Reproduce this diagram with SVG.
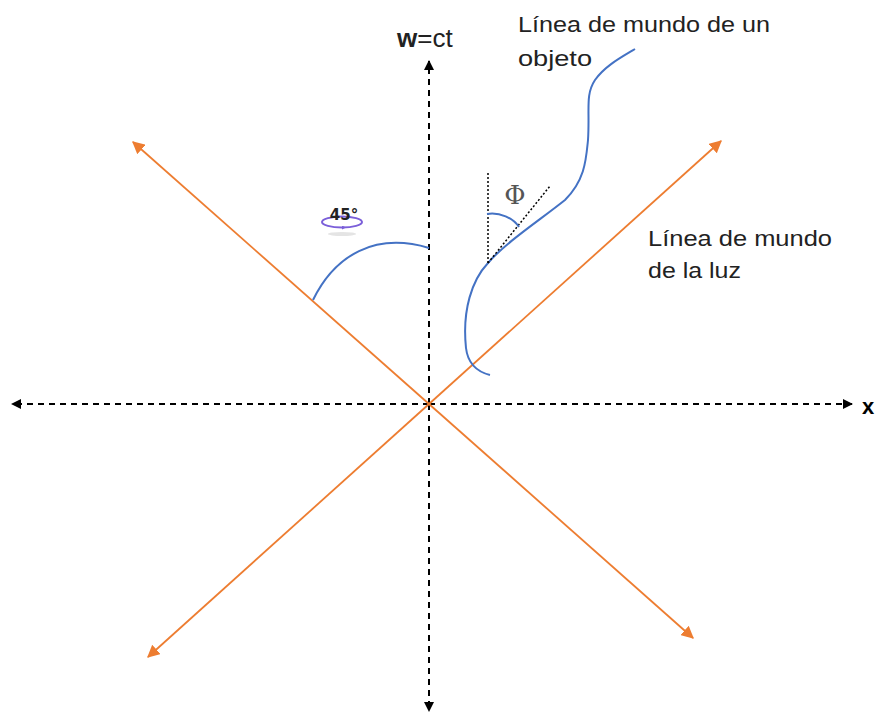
<svg xmlns="http://www.w3.org/2000/svg" width="883" height="713" viewBox="0 0 883 713">
<defs>
<marker id="ab" viewBox="0 0 10 10" refX="9" refY="5" markerWidth="5" markerHeight="5" orient="auto-start-reverse" markerUnits="strokeWidth">
<path d="M0,0 L10,5 L0,10 z" fill="#000"/>
</marker>
<marker id="ao" viewBox="0 0 10 10" refX="9" refY="5" markerWidth="7" markerHeight="7" orient="auto" markerUnits="strokeWidth">
<path d="M0,0 L10,5 L0,10 z" fill="#ED7D31"/>
</marker>
<marker id="ap" viewBox="0 0 10 10" refX="5" refY="5" markerWidth="4" markerHeight="4" orient="auto">
<path d="M0,0 L10,5 L0,10 z" fill="#7B5FD9"/>
</marker>
</defs>
<style>
.axis{stroke:#000;stroke-width:2;stroke-dasharray:6 5;fill:none}
.light{stroke:#ED7D31;stroke-width:1.8;fill:none}
.blue{stroke:#4472C4;stroke-width:2;fill:none}
.lbl{font-family:"Liberation Sans",Arial,sans-serif;font-size:22px;fill:#222}
.dot{stroke:#000;stroke-width:1.5;stroke-dasharray:2 2;fill:none}
</style>
<rect width="883" height="713" fill="#fff"/>
<g id="connectors">
<line class="axis" x1="429" y1="404" x2="852" y2="404" marker-end="url(#ab)"/>
<line class="axis" x1="429" y1="404" x2="12" y2="404" marker-end="url(#ab)"/>
<line class="axis" x1="429" y1="404" x2="429" y2="61" marker-end="url(#ab)"/>
<line class="axis" x1="429" y1="404" x2="429" y2="711" marker-end="url(#ab)"/>
<line class="light" x1="429" y1="404" x2="721" y2="141" marker-end="url(#ao)"/>
<line class="light" x1="429" y1="404" x2="133" y2="142" marker-end="url(#ao)"/>
<line class="light" x1="429" y1="404" x2="148" y2="657" marker-end="url(#ao)"/>
<line class="light" x1="429" y1="404" x2="693" y2="638" marker-end="url(#ao)"/>
</g>
<g id="angle45">
<path class="blue" d="M313,300 C335,255 375,232 429,248"/>
<ellipse cx="342" cy="234" rx="14" ry="2" fill="#ddd" opacity="0.8"/>
<ellipse cx="342" cy="222" rx="20" ry="5.5" fill="none" stroke="#7B5FD9" stroke-width="2"/>
<path d="M336,227.5 L344,227.5" stroke="#7B5FD9" stroke-width="1" marker-end="url(#ap)"/>
<text x="344" y="220" text-anchor="middle" font-family="'DejaVu Sans',sans-serif" font-weight="bold" font-size="15" fill="#222">45°</text>
</g>
<g id="worldline-object">
<path class="blue" d="M490,375 C478,372 468,365 466,348 C462,310 472,280 488,263 C505,243 540,220 565,200 C585,180 586,160 588,140 C590,110 585,95 595,80 C605,66 620,58 635,49"/>
<line class="dot" x1="488" y1="263" x2="488" y2="172"/>
<line class="dot" x1="488" y1="263" x2="550" y2="186"/>
<path class="blue" d="M487,214 C500,212 513,218 519,227"/>
<text x="515" y="204" text-anchor="middle" font-family="'DejaVu Serif',serif" font-size="26" fill="#555">Φ</text>
</g>
<g id="labels">
<text class="lbl" x="518" y="32" textLength="252" lengthAdjust="spacingAndGlyphs">Línea de mundo de un</text>
<text class="lbl" x="518" y="66" textLength="74" lengthAdjust="spacingAndGlyphs">objeto</text>
<text class="lbl" x="648" y="246" textLength="184" lengthAdjust="spacingAndGlyphs">Línea de mundo</text>
<text class="lbl" x="648" y="278" textLength="93" lengthAdjust="spacingAndGlyphs">de la luz</text>
<text x="397" y="47" font-family="'Liberation Sans',Arial,sans-serif" font-size="26" fill="#222"><tspan font-weight="bold">w</tspan>=ct</text>
<text x="862" y="414" font-family="'Liberation Sans',Arial,sans-serif" font-size="22" font-weight="bold" fill="#000">x</text>
</g>
</svg>
